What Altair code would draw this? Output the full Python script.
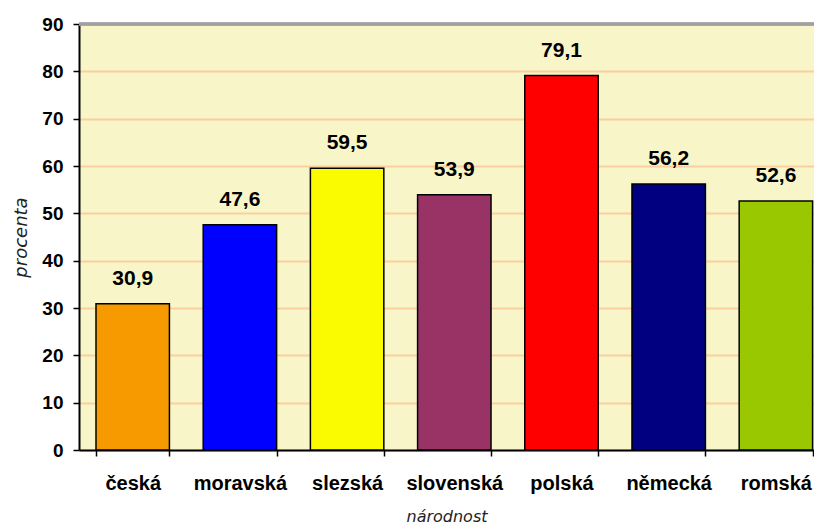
import altair as alt
import pandas as pd

categories = ["česká", "moravská", "slezská", "slovenská", "polská", "německá", "romská"]
values = [30.9, 47.6, 59.5, 53.9, 79.1, 56.2, 52.6]
labels = ["30,9", "47,6", "59,5", "53,9", "79,1", "56,2", "52,6"]
colors = ["#F79A00", "#0000FF", "#FAFA00", "#993366", "#FF0000", "#000080", "#99C800"]
y_ticks = [0, 10, 20, 30, 40, 50, 60, 70, 80, 90]
y_max = 90

df = pd.DataFrame({"narodnost": categories, "procenta": values, "label": labels, "color": colors})

x_enc = alt.X(
    "narodnost:N",
    sort=categories,
    title="národnost",
    scale=alt.Scale(paddingInner=0.315, paddingOuter=0.0858, align=0.924),
    axis=alt.Axis(
        labelAngle=0,
        labelFont="Liberation Sans",
        labelFontWeight="bold",
        labelFontSize=20,
        labelColor="#000000",
        labelPadding=17,
        tickBand="extent",
        tickColor="#000000",
        tickSize=6,
        tickWidth=1.5,
        domainColor="#000000",
        domainWidth=2,
        titleFont="DejaVu Sans",
        titleFontStyle="italic",
        titleFontWeight="normal",
        titleFontSize=16,
        titleColor="#222222",
        titlePadding=15,
        grid=False,
    ),
)

y_enc = alt.Y(
    "procenta:Q",
    title="procenta",
    scale=alt.Scale(domain=[0, y_max], nice=False, zero=True),
    axis=alt.Axis(
        values=y_ticks,
        labelFont="Liberation Sans",
        labelFontWeight="bold",
        labelFontSize=19,
        labelColor="#000000",
        labelPadding=10,
        tickColor="#000000",
        tickSize=6,
        tickWidth=1.5,
        domainColor="#000000",
        domainWidth=2,
        gridColor="#F9CF9F",
        gridWidth=2,
        titleFont="DejaVu Sans",
        titleFontStyle="italic",
        titleFontWeight="normal",
        titleFontSize=18,
        titleColor="#222222",
        titlePadding=11,
    ),
)

bars = alt.Chart(df).mark_bar(stroke="#000000", strokeWidth=1.5).encode(
    x=x_enc,
    y=y_enc,
    color=alt.Color("color:N", scale=None),
)

top_border = alt.Chart(df).mark_rule(color="#A0A0A0", strokeWidth=2.5).encode(
    y=alt.datum(y_max)
)

text = alt.Chart(df).mark_text(
    baseline="alphabetic",
    dy=-19,
    font="Liberation Sans",
    fontWeight="bold",
    fontSize=21,
    color="#000000",
).encode(
    x=alt.X("narodnost:N", sort=categories),
    y=alt.Y("procenta:Q"),
    text="label:N",
)

chart = (
    alt.layer(bars, top_border, text)
    .properties(
        width=735,
        height=426,
        autosize=alt.AutoSizeParams(type="none"),
        padding={"left": 71, "top": 16, "right": 0, "bottom": 74},
        background="#FFFFFF",
    )
    .configure_view(fill="#F8F6C8", strokeWidth=0)
)

chart.save("out.html", embed_options={"renderer": "svg", "actions": False})
